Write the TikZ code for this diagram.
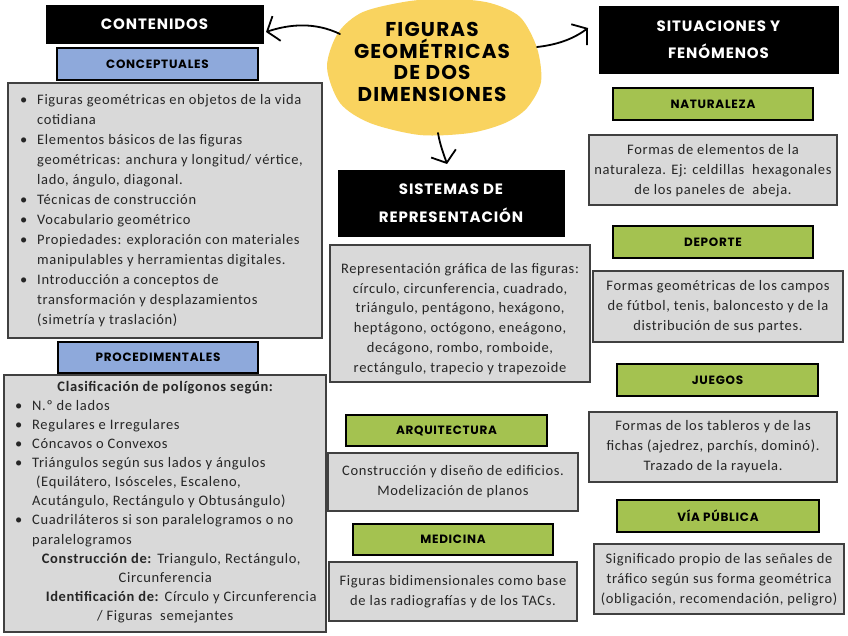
\documentclass[tikz,border=0pt]{standalone}
\usepackage{fontspec}
\setmainfont{Carlito}[LetterSpace=4.5]
\newfontfamily\hf{Poppins}[LetterSpace=6]
\usetikzlibrary{arrows.meta}
\definecolor{blueC}{HTML}{8EA9DB}
\definecolor{greenC}{HTML}{A4C250}
\definecolor{grayC}{HTML}{D9D9D9}
\definecolor{grayD}{HTML}{404040}
\definecolor{textC}{HTML}{262626}
\definecolor{yellowC}{HTML}{F9D35F}
\newcommand\bul{\makebox[17pt][l]{\textbullet}}
\newcommand\cnt{\hspace*{17pt}}
\tikzset{
 lbl/.style={draw=black, line width=2pt, inner sep=0pt, font=\hf\bfseries\fontsize{12}{14}\selectfont},
 bluelbl/.style={lbl, fill=blueC},
 greenlbl/.style={lbl, fill=greenC},
 blackhdr/.style={fill=black, draw=black, text=white, inner sep=0pt, align=center, font=\hf\bfseries\fontsize{15}{27}\selectfont},
 graybox/.style={fill=grayC, draw=grayD, line width=1.4pt, inner sep=0pt},
 body/.style={inner sep=0pt, align=center, text=textC, font=\fontsize{14.5}{20}\selectfont},
 bodyl/.style={body, align=left},
 arr/.style={line width=1.8pt, line cap=round, -{Straight Barb[length=10pt,width=26pt]}},
}
\begin{document}
\begin{tikzpicture}[x=1pt,y=-1pt]
\useasboundingbox (0,0) rectangle (848,636);
\fill[white] (0,0) rectangle (848,636);
% blob
\fill[yellowC] plot[smooth cycle] coordinates {(363,12) (410,1) (453,-1) (490,3) (520,17) (537,48) (541,82) (527,108) (505,123) (470,133) (420,135) (370,123) (340,103) (327,67) (338,33)};
\node[inner sep=0pt, align=center, font=\hf\bfseries\fontsize{20}{21.4}\selectfont] (title) at (432,62) {FIGURAS\\GEOMÉTRICAS\\DE DOS\\DIMENSIONES};
% left column
\node[blackhdr, minimum width=217pt, minimum height=38pt] (cont) at (154.5,24) {CONTENIDOS};
\node[bluelbl, minimum width=201pt, minimum height=32pt] (concep) at (157.5,64) {CONCEPTUALES};
\node[graybox, minimum width=314pt, minimum height=255pt] (concbox) at (165,210.5) {};
\node[bodyl, anchor=west] (conctext) at (20,211) {\bul Figuras geométricas en objetos de la vida\\
\cnt cotidiana\\
\bul Elementos básicos de las figuras\\
\cnt geométricas: anchura y longitud/ vértice,\\
\cnt lado, ángulo, diagonal.\\
\bul Técnicas de construcción\\
\bul Vocabulario geométrico\\
\bul Propiedades: exploración con materiales\\
\cnt manipulables y herramientas digitales.\\
\bul Introducción a conceptos de\\
\cnt transformación y desplazamientos\\
\cnt (simetría y traslación)};
\node[bluelbl, minimum width=200pt, minimum height=31pt] (proc) at (158,357.5) {PROCEDIMENTALES};
\node[graybox, minimum width=322pt, minimum height=257pt] (procbox) at (165,503.5) {};
\node[bodyl, anchor=west, font=\fontsize{14.5}{19.1}\selectfont] (proctext) at (15,502) {\makebox[300pt]{\bfseries Clasificación de polígonos según:}\\
\bul N.º de lados\\
\bul Regulares e Irregulares\\
\bul Cóncavos o Convexos\\
\bul Triángulos según sus lados y ángulos\\
\cnt\hspace*{4pt}(Equilátero, Isósceles, Escaleno,\\
\cnt Acutángulo, Rectángulo y Obtusángulo)\\
\bul Cuadriláteros si son paralelogramos o no\\
\cnt paralelogramos\\
\makebox[300pt]{\hspace*{12pt}\textbf{Construcción de:} Triangulo, Rectángulo,}\\
\makebox[300pt]{Circunferencia}\\
\makebox[300pt]{\hspace*{32pt}\textbf{Identificación de:} Círculo y Circunferencia}\\
\makebox[300pt]{/ Figuras\ \ semejantes}};
% middle column
\node[blackhdr, minimum width=226pt, minimum height=66pt, font=\hf\bfseries\fontsize{15}{28}\selectfont] (sist) at (451,203) {SISTEMAS DE\\REPRESENTACIÓN};
\node[graybox, minimum width=260pt, minimum height=137pt] (repbox) at (460,313.5) {};
\node[body, font=\fontsize{14.5}{19.7}\selectfont] (reptext) at (460,319) {Representación gráfica de las figuras:\\ círculo, circunferencia, cuadrado,\\ triángulo, pentágono, hexágono,\\ heptágono, octógono, eneágono,\\ decágono, rombo, romboide,\\ rectángulo, trapecio y trapezoide};
\node[greenlbl, minimum width=201pt, minimum height=31pt] (arq) at (446.5,430.5) {ARQUITECTURA};
\node[graybox, minimum width=250pt, minimum height=58pt] (arqbox) at (453,482) {};
\node[body] (arqtext) at (453,482) {Construcción y diseño de edificios.\\ Modelización de planos};
\node[greenlbl, minimum width=200pt, minimum height=31pt] (med) at (453,539.5) {MEDICINA};
\node[graybox, minimum width=248pt, minimum height=59pt] (medbox) at (453,591.5) {};
\node[body] (medtext) at (453,592) {Figuras bidimensionales como base\\ de las radiografías y de los TACs.};
% right column
\node[blackhdr, minimum width=239pt, minimum height=67pt] (sit) at (718.5,39.5) {SITUACIONES Y\\FENÓMENOS};
\node[greenlbl, minimum width=200pt, minimum height=32pt] (nat) at (713,104) {NATURALEZA};
\node[graybox, minimum width=248pt, minimum height=70pt] (natbox) at (713,170) {};
\node[body] (nattext) at (713,171) {Formas de elementos de la\\ naturaleza. Ej: celdillas\ \ hexagonales\\ de los paneles de\ \ abeja.};
\node[greenlbl, minimum width=200pt, minimum height=32pt] (dep) at (713,242) {DEPORTE};
\node[graybox, minimum width=250pt, minimum height=71pt] (depbox) at (718,306.5) {};
\node[body] (deptext) at (718,307) {Formas geométricas de los campos\\ de fútbol, tenis, baloncesto y de la\\ distribución de sus partes.};
\node[greenlbl, minimum width=201pt, minimum height=32pt] (jue) at (717.5,380) {JUEGOS};
\node[graybox, minimum width=248pt, minimum height=70pt] (juebox) at (713,447) {};
\node[body] (juetext) at (713,447) {Formas de los tableros y de las\\ fichas (ajedrez, parchís, dominó).\\ Trazado de la rayuela.};
\node[greenlbl, minimum width=202pt, minimum height=32pt] (via) at (718,516) {VÍA PÚBLICA};
\node[graybox, minimum width=250pt, minimum height=70pt] (viabox) at (719,579) {};
\node[body] (viatext) at (719,580) {Significado propio de las señales de\\ tráfico según sus forma geométrica\\ (obligación, recomendación, peligro)};
% arrows
\coordinate (aL0) at (340,34);
\coordinate (aL1) at (266,32);
\coordinate (aR0) at (537,47);
\coordinate (aR1) at (588,28);
\coordinate (aD0) at (438,133);
\coordinate (aD1) at (447,164);
\draw[arr] (aL0) .. controls (315,22) and (290,24) .. (aL1);
\draw[arr] (aR0) .. controls (555,45) and (572,40) .. (aR1);
\draw[arr] (aD0) .. controls (440,145) and (444,155) .. (aD1);
\end{tikzpicture}
\end{document}
